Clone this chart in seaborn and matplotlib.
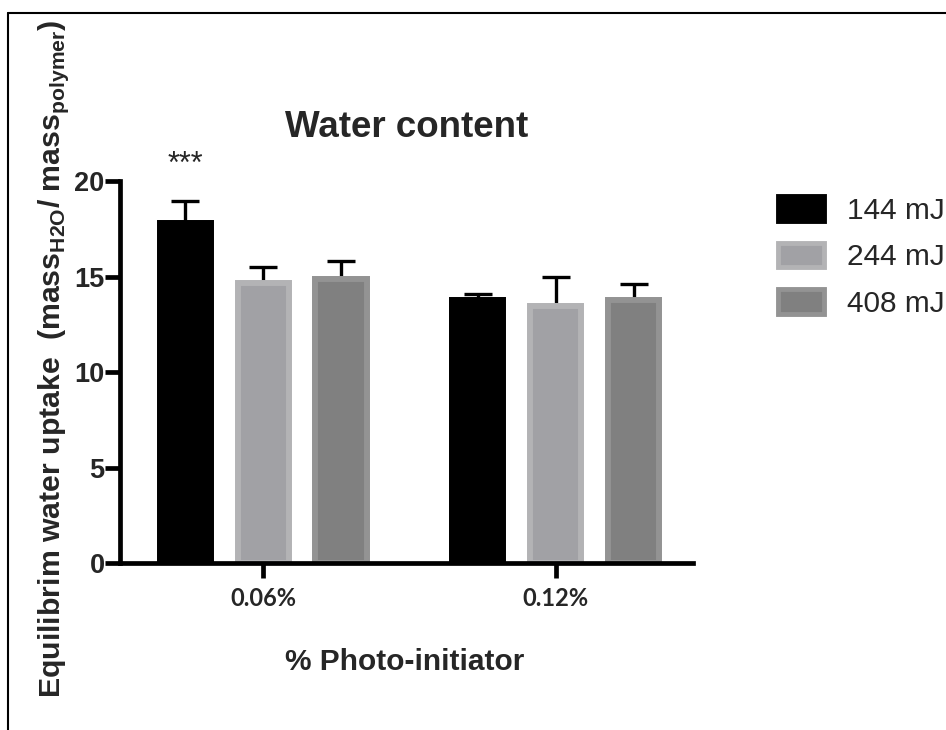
import matplotlib
matplotlib.use("Agg")
import matplotlib.pyplot as plt
import seaborn as sns
import pandas as pd
import numpy as np
from matplotlib.patches import Rectangle
from matplotlib.lines import Line2D

# ---- data ----
concentrations = ["0.06%", "0.12%"]
energies = ["144 mJ", "244 mJ", "408 mJ"]
means_006 = [17.8, 14.65, 14.85]
means_012 = [13.75, 13.45, 13.75]
err_006 = [1.16, 0.87, 0.97]
err_012 = [0.33, 1.55, 0.87]
y_ticks = [0, 5, 10, 15, 20]

face_colors = ["#000000", "#a1a1a5", "#808080"]
edge_colors = ["#000000", "#b3b3b5", "#939393"]

rows = []
for e, m1, m2 in zip(energies, means_006, means_012):
    rows.append({"conc": concentrations[0], "energy": e, "val": m1})
    rows.append({"conc": concentrations[1], "energy": e, "val": m2})
df = pd.DataFrame(rows)

sns.set_style("ticks")
plt.rcParams["font.family"] = ["Liberation Sans", "DejaVu Sans"]
plt.rcParams["mathtext.fontset"] = "custom"
plt.rcParams["mathtext.rm"] = "Liberation Sans"
plt.rcParams["mathtext.bf"] = "Liberation Sans:bold"

fig = plt.figure(figsize=(9.46, 7.30), dpi=100)
ax = fig.add_axes([120/946, 1-563.3/730, (693-120)/946, (563.3-181)/730])

sns.barplot(data=df, x="conc", y="val", hue="energy", order=concentrations,
            hue_order=energies, palette=face_colors, errorbar=None,
            width=0.8, gap=0.34, ax=ax, legend=False, saturation=1)

bar_containers = list(ax.containers)
errs = [[err_006[i], err_012[i]] for i in range(3)]
for i, cont in enumerate(bar_containers):
    for j, p in enumerate(cont.patches):
        p.set_facecolor(face_colors[i])
        p.set_edgecolor(edge_colors[i])
        p.set_linewidth(4.3)
        p.set_joinstyle("miter")
        p.set_zorder(2)
        xc = p.get_x() + p.get_width()/2
        top = p.get_height()
        ax.errorbar([xc], [top], yerr=[[0], [errs[i][j]]], fmt="none",
                    ecolor="black", elinewidth=2.4, capsize=10, capthick=2.4,
                    zorder=1)

# significance marker
p0 = bar_containers[0].patches[0]
ax.text(p0.get_x() + p0.get_width()/2, 20.4, "***", ha="center", va="baseline",
        fontsize=22, clip_on=False)

ax.set_ylim(0, 20)
ax.set_xlim(-0.49, 1.47)
ax.set_yticks(y_ticks)
ax.set_yticklabels([str(t) for t in y_ticks], fontsize=19.5, fontweight="bold")
ax.set_xticks([0, 1])
ax.set_xticklabels(concentrations, fontsize=17, fontweight="bold",
                   family=["Lato", "DejaVu Sans"])

for s in ["top", "right"]:
    ax.spines[s].set_visible(False)
for s in ["left", "bottom"]:
    ax.spines[s].set_linewidth(3.4)
    ax.spines[s].set_color("black")
    ax.spines[s].set_capstyle("projecting")
ax.tick_params(axis="both", width=3.4, length=11, color="black", direction="out")
ax.tick_params(axis="y", pad=0)
ax.tick_params(axis="x", pad=6)

ax.set_title("Water content", fontsize=26.5, fontweight="bold", pad=31.7)
ax.set_xlabel("% Photo-initiator", fontsize=21.5, fontweight="bold", va="top")
ax.xaxis.set_label_coords(0.497, -0.222)
ax.set_ylabel(r"Equilibrim water uptake  (mass$_\mathbf{H2O}$/ mass$_\mathbf{polymer}$)",
              fontsize=21.8, fontweight="bold")
ax.yaxis.set_label_coords(-0.085, 0.535)

# legend
handles = [Rectangle((0, 0), 1, 1, facecolor=face_colors[i], edgecolor=edge_colors[i],
                     linewidth=3.5) for i in range(3)]
fig.legend(handles, energies, loc="upper left",
           bbox_to_anchor=(778/946, 1-196/730), frameon=False, fontsize=21.5,
           handlelength=1.55, handleheight=0.9, handletextpad=0.75,
           labelspacing=0.6, borderpad=0, borderaxespad=0)

# page border
fig.add_artist(Line2D([8/946, 8/946], [0, 1-13/730], color="black", lw=1.5,
                      transform=fig.transFigure))
fig.add_artist(Line2D([8/946, 1], [1-13/730, 1-13/730], color="black", lw=1.5,
                      transform=fig.transFigure))

fig.savefig("out.png", dpi=100)
